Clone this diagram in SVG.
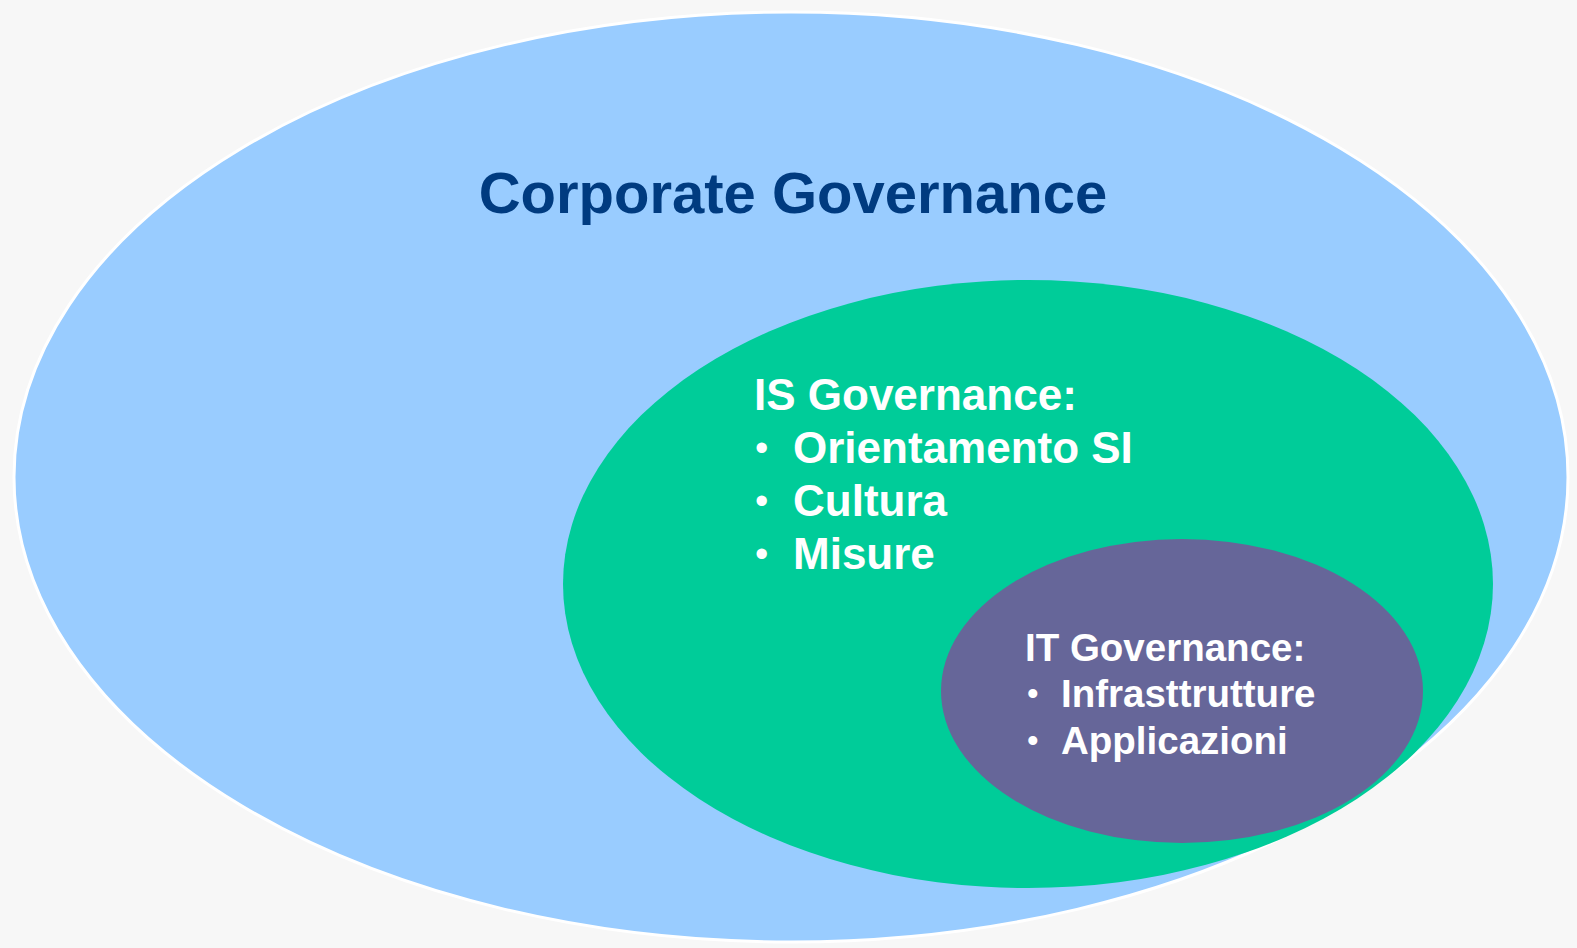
<svg xmlns="http://www.w3.org/2000/svg" width="1577" height="948" viewBox="0 0 1577 948">
<style>
.t{font-family:"Liberation Sans",Arial,sans-serif;font-weight:bold}
.w{fill:#ffffff}
.b{font-weight:normal}
</style>
<rect x="0" y="0" width="1577" height="948" fill="#f7f7f7"/>
<g id="corporate">
<ellipse cx="791" cy="477" rx="777" ry="465" fill="#99ccff" stroke="#ffffff" stroke-width="3"/>
<text class="t" x="793" y="213" font-size="58" fill="#003b80" text-anchor="middle">Corporate Governance</text>
</g>
<g id="is">
<ellipse cx="1028" cy="584" rx="465" ry="304" fill="#00cc99"/>
<g class="t w" font-size="44">
<text x="754" y="410">IS Governance:</text>
<text class="b" x="755" y="461" font-size="38">•</text><text x="793" y="463">Orientamento SI</text>
<text class="b" x="755" y="514" font-size="38">•</text><text x="793" y="516">Cultura</text>
<text class="b" x="755" y="567" font-size="38">•</text><text x="793" y="569">Misure</text>
</g>
</g>
<g id="it">
<ellipse cx="1182" cy="691" rx="241" ry="152" fill="#666699"/>
<g class="t w" font-size="38.5">
<text x="1025" y="661">IT Governance:</text>
<text class="b" x="1027" y="705" font-size="33">•</text><text x="1061" y="707">Infrasttrutture</text>
<text class="b" x="1027" y="752" font-size="33">•</text><text x="1061" y="754">Applicazioni</text>
</g>
</g>
<g id="connectors"/>
</svg>
